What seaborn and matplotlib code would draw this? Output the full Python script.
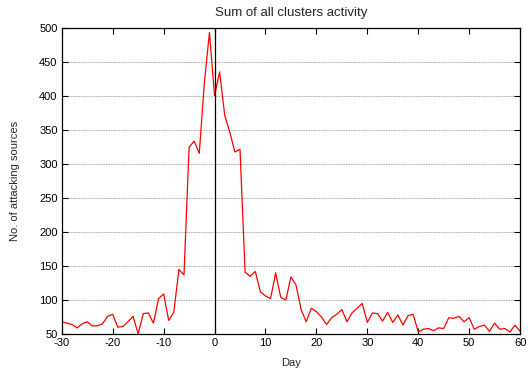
import pandas as pd
import matplotlib
matplotlib.use("Agg")
import matplotlib.pyplot as plt
import seaborn as sns

days = list(range(-30, 61))
activity = [
    68, 66, 64, 59, 65, 68, 62, 62, 65, 76,   # -30 .. -21
    79, 60, 61, 68, 76, 50, 80, 81, 66, 102,  # -20 .. -11
    109, 70, 82, 145, 137, 325, 334, 316, 420, 494,  # -10 .. -1
    401, 436, 372, 347, 318, 322, 141, 135, 142, 112,  # 0 .. 9
    106, 102, 140, 104, 100, 134, 122, 86, 68, 88,  # 10 .. 19
    83, 75, 64, 74, 79, 86, 68, 81, 88, 95,  # 20 .. 29
    67, 81, 80, 69, 82, 67, 78, 63, 77, 79,  # 30 .. 39
    53, 57, 58, 55, 59, 58, 74, 73, 76, 68,  # 40 .. 49
    74, 57, 61, 63, 54, 66, 57, 58, 53, 63,  # 50 .. 59
    54,  # 60
]
yticks = list(range(50, 501, 50))
xticks = list(range(-30, 61, 10))


def main():
    df = pd.DataFrame({"Day": days, "Sources": activity})

    sns.set_style("ticks")
    plt.rcParams["font.family"] = ["Liberation Sans", "DejaVu Sans"]
    plt.rcParams["axes.unicode_minus"] = False

    fig = plt.figure(figsize=(5.28, 3.74), dpi=100)
    ax = fig.add_axes([0.117, 0.107, 0.868, 0.817])

    sns.lineplot(x="Day", y="Sources", data=df, color="red", linewidth=0.9, ax=ax)
    ax.axvline(0, color="black", linewidth=0.9)

    ax.set_xlim(-30, 60)
    ax.set_ylim(50, 500)
    ax.set_xticks(xticks)
    ax.set_yticks(yticks)
    ax.yaxis.grid(True, color="#888888", linestyle=(0, (1, 1)), linewidth=0.6)
    ax.tick_params(direction="in", top=True, right=True, length=4, width=0.8,
                   labelsize=8, colors="black", pad=3)
    for s in ax.spines.values():
        s.set_linewidth(0.9)
        s.set_color("black")

    ax.set_xlabel("Day", fontsize=8, labelpad=7)
    ax.set_ylabel("No. of attacking sources", fontsize=8, labelpad=14)
    ax.set_title("Sum of all clusters activity", fontsize=9.5, pad=9)

    fig.savefig("out.png", dpi=100)


if __name__ == "__main__":
    main()
